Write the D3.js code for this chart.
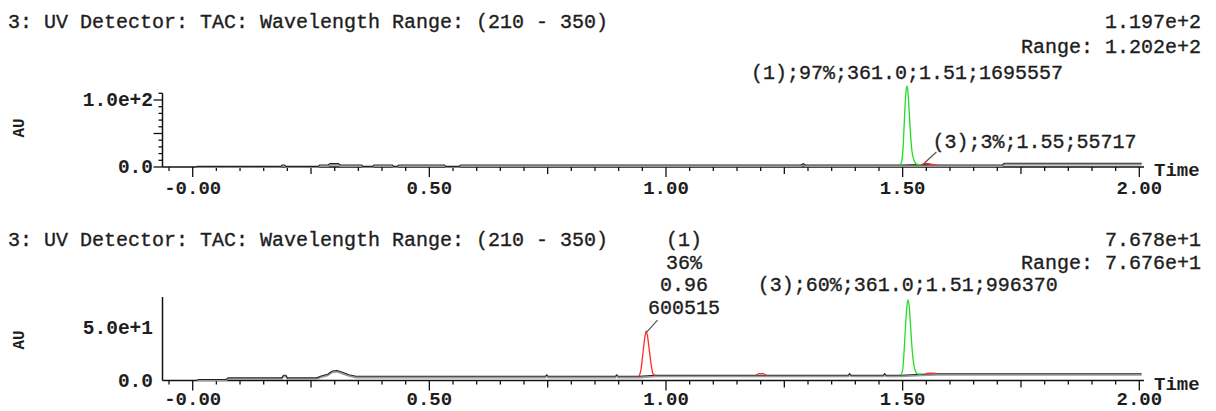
<!DOCTYPE html>
<html>
<head>
<meta charset="utf-8">
<script src="https://cdn.jsdelivr.net/npm/d3@7"></script>
<style>
  body { margin: 0; background: #fff; }
  text { font-family: "Liberation Mono", monospace; fill: #1e1e1e; }
  text.note { stroke: #1e1e1e; stroke-width: 0.35; }
</style>
</head>
<body>
<svg id="chart" width="1216" height="411"></svg>
<script>
// ---- data ----
const titleText = "3: UV Detector: TAC: Wavelength Range: (210 - 350)";
const xMajorTicks = [0, 0.5, 1.0, 1.5, 2.0];
const xTickLabels = ["-0.00", "0.50", "1.00", "1.50", "2.00"];

// top run
const topMax = "1.197e+2";
const topRange = "Range: 1.202e+2";
const topYTicks = [0, 100];
const topYLabels = ["0.0", "1.0e+2"];
const topTrace = [[0.008,1],[0.186,1],[0.189,3],[0.194,3],[0.197,1],[0.265,1],[0.268,3],[0.286,3],
  [0.29,5],[0.308,5],[0.312,3],[0.357,3],[0.36,1],[0.38,1],[0.383,3],[0.422,3],[0.425,1],[0.432,1],
  [0.435,3],[0.532,3],[0.535,1],[0.563,1],[0.566,3],[1.285,3],[1.29,5],[1.295,3],[1.494,3],
  [1.54,3.5],[1.572,3],[1.71,3],[1.715,5.5],[2.005,5.5]];
const topGreen = [[1.494,3],[1.498,8],[1.501,30],[1.504,75],[1.507,112],[1.509,121],[1.511,113],
  [1.514,80],[1.517,45],[1.520,22],[1.524,10],[1.528,5],[1.534,3.5],[1.54,3.5]];
const topRed = [[1.54,3.5],[1.548,5.5],[1.555,5],[1.565,3.5],[1.572,3]];
const topPeakLabel = "(1);97%;361.0;1.51;1695557";
const topSmallLabel = "(3);3%;1.55;55717";

// bottom run
const botMax = "7.678e+1";
const botRange = "Range: 7.676e+1";
const botYTicks = [0, 50];
const botYLabels = ["0.0", "5.0e+1"];
const botTrace = [[0.01,1],[0.07,1],[0.075,2.5],[0.188,2.5],[0.192,5],[0.197,5],[0.2,2.5],[0.262,2.5],
  [0.27,4],[0.285,6],[0.295,9],[0.305,9.5],[0.315,8],[0.33,5.5],[0.345,4],[0.745,4],[0.748,5.5],
  [0.751,4],[0.893,4],[0.896,5.5],[0.899,4],[0.943,4],[0.977,5],[1.19,5],[1.212,5],[1.385,5],
  [1.388,6.5],[1.391,5],[1.459,5],[1.462,6.5],[1.465,5],[1.496,5],[1.54,6],[1.572,6.5],[2.005,6.5]];
const botRedA = [[0.943,4],[0.947,10],[0.951,25],[0.955,40],[0.958,47],[0.961,42],[0.965,28],
  [0.969,14],[0.973,6],[0.977,5]];
const botRedB = [[1.19,5],[1.197,6.5],[1.205,6.5],[1.212,5]];
const botGreen = [[1.496,5],[1.500,10],[1.504,35],[1.508,65],[1.511,76.8],[1.514,70],[1.517,50],
  [1.520,30],[1.524,14],[1.528,8],[1.533,6],[1.54,6]];
const botRedC = [[1.548,6],[1.555,7],[1.565,7],[1.572,6.5]];
const botPeakLabel = "(3);60%;361.0;1.51;996370";
const botStackLabel = ["(1)", "36%", "0.96", "600515"];

const svg = d3.select("#chart");
const green = "#22dd22", red = "#ff2a2a";

const x = d3.scaleLinear().domain([0, 2]).range([192.7, 1139.3]);
const axisLeft = 162.5, axisRight = 1144;

function drawPanel(p) {
  const g = svg.append("g");
  const y = d3.scaleLinear().domain([0, p.unit]).range([p.y0, p.y0 - p.unitPx]);

  // header texts
  g.append("text").attr("class", "note").attr("x", 8).attr("y", p.titleY)
    .attr("font-size", 20).text(titleText);
  g.append("text").attr("class", "note").attr("x", 1201).attr("y", p.titleY).attr("font-size", 20)
    .attr("text-anchor", "end").text(p.maxText);
  g.append("text").attr("class", "note").attr("x", 1201).attr("y", p.rangeY).attr("font-size", 20)
    .attr("text-anchor", "end").text(p.rangeText);

  // y axis
  g.append("line").attr("x1", axisLeft).attr("x2", axisLeft)
    .attr("y1", p.y0).attr("y2", y(p.yTop)).attr("stroke", "#111").attr("stroke-width", 1.5);
  if (p.minorY) {
    g.selectAll(".ym").data(d3.range(0, p.yTop + 0.1, 10)).enter().append("line")
      .attr("x1", d => axisLeft - (d % 50 === 0 ? 9 : 4)).attr("x2", axisLeft)
      .attr("y1", d => y(d)).attr("y2", d => y(d)).attr("stroke", "#111").attr("stroke-width", 1.3);
  }
  g.selectAll(".yl").data(p.yTicks).enter().append("text")
    .attr("x", 153).attr("y", d => y(d) + 6).attr("text-anchor", "end")
    .attr("font-size", 19.5).attr("font-weight", "bold")
    .text((d, i) => p.yLabels[i]);
  g.append("text").attr("transform", `translate(24,${p.auY}) rotate(-90)`)
    .attr("text-anchor", "middle").attr("font-size", 16).attr("font-weight", "bold").text("AU");

  // x axis
  g.append("line").attr("x1", axisLeft).attr("x2", axisRight)
    .attr("y1", p.y0).attr("y2", p.y0).attr("stroke", "#111").attr("stroke-width", 1.5);
  const ticks = d3.range(-1, 41).map(i => i * 0.05);
  g.selectAll(".xt").data(ticks).enter().append("line")
    .attr("x1", d => x(d)).attr("x2", d => x(d)).attr("y1", p.y0)
    .attr("y2", (d, i) => {
      const k = i - 1;
      return p.y0 + (k % 10 === 0 ? 10 : k % 5 === 0 ? 7 : 4);
    })
    .attr("stroke", "#111").attr("stroke-width", 1.3);
  g.selectAll(".xl").data(xMajorTicks).enter().append("text")
    .attr("x", d => x(d)).attr("y", p.xLabelY).attr("text-anchor", "middle")
    .attr("font-size", 19).attr("font-weight", "bold")
    .text((d, i) => xTickLabels[i]);
  g.append("text").attr("x", 1154).attr("y", p.y0 + 9).attr("font-size", 19)
    .attr("font-weight", "bold").text("Time");

  // traces
  const line = d3.line().x(d => x(d[0])).y(d => y(d[1]));
  const smooth = d3.line().x(d => x(d[0])).y(d => y(d[1])).curve(d3.curveMonotoneX);
  g.append("path").attr("d", line(p.trace.map(d => [d[0], Math.max(d[1] - 1.3 * p.unit / p.unitPx, 0)])))
    .attr("fill", "none").attr("stroke", "#9a9a9a").attr("stroke-width", 1.6);
  g.append("path").attr("d", line(p.trace)).attr("fill", "none")
    .attr("stroke", "#222").attr("stroke-width", 1.1);
  p.peaks.forEach(pk => {
    g.append("path").attr("d", smooth(pk.data)).attr("fill", "none")
      .attr("stroke", pk.color).attr("stroke-width", 1.3);
  });

  return { g, y };
}

// top panel
const topPanel = drawPanel({
  y0: 167, unit: 100, unitPx: 67, yTop: 110, minorY: true,
  titleY: 28, rangeY: 53, maxText: topMax, rangeText: topRange,
  yTicks: topYTicks, yLabels: topYLabels, auY: 128, xLabelY: 194,
  trace: topTrace,
  peaks: [{ data: topGreen, color: green }, { data: topRed, color: red }]
});
topPanel.g.append("text").attr("class", "note").attr("x", x(1.509)).attr("y", 79)
  .attr("text-anchor", "middle").attr("font-size", 20).text(topPeakLabel);
topPanel.g.append("line").attr("x1", x(1.546)).attr("y1", topPanel.y(6))
  .attr("x2", x(1.546) + 12).attr("y2", topPanel.y(6) - 11).attr("stroke", "#555").attr("stroke-width", 1.2);
topPanel.g.append("text").attr("class", "note").attr("x", x(1.546) + 8).attr("y", 148)
  .attr("font-size", 20).text(topSmallLabel);

// bottom panel
const botPanel = drawPanel({
  y0: 380.5, unit: 50, unitPx: 52.5, yTop: 79.5, minorY: false,
  titleY: 246, rangeY: 269, maxText: botMax, rangeText: botRange,
  yTicks: botYTicks, yLabels: botYLabels, auY: 340, xLabelY: 405,
  trace: botTrace,
  peaks: [{ data: botRedA, color: red }, { data: botRedB, color: red },
          { data: botGreen, color: green }, { data: botRedC, color: red }]
});
botPanel.g.append("text").attr("class", "note").attr("x", x(1.511)).attr("y", 291)
  .attr("text-anchor", "middle").attr("font-size", 20).text(botPeakLabel);
botPanel.g.append("line").attr("x1", x(0.959)).attr("y1", botPanel.y(46))
  .attr("x2", x(0.959) + 11).attr("y2", botPanel.y(46) - 12).attr("stroke", "#555").attr("stroke-width", 1.2);
botPanel.g.selectAll(".stack").data(botStackLabel).enter().append("text")
  .attr("class", "note").attr("x", 684).attr("y", (d, i) => 246 + i * 22.5)
  .attr("text-anchor", "middle").attr("font-size", 20).text(d => d);
</script>
</body>
</html>
